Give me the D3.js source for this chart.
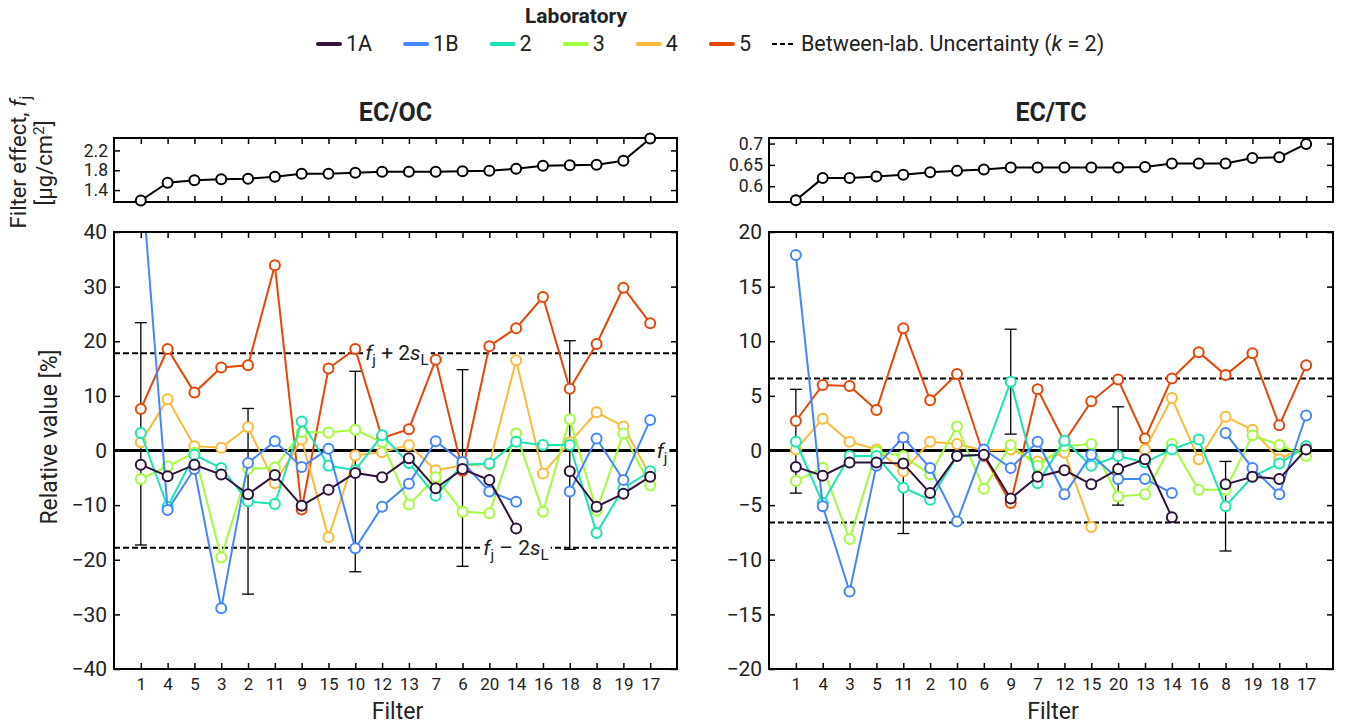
<!DOCTYPE html>
<html>
<head>
<meta charset="utf-8">
<script src="https://cdn.jsdelivr.net/npm/d3@7.9.0/dist/d3.min.js"></script>
<style>
  body { margin: 0; background: #fff; }
  svg { font-family: Roboto, sans-serif; }
</style>
</head>
<body>
<svg id="chart" width="1347" height="724"></svg>
<script>
// ---- data ----
const labs = ['1A', '1B', '2', '3', '4', '5'];
const labColors = ['#30123b', '#4686fb', '#1ae4b6', '#a2fc3c', '#fbb938', '#e4460a'];

// EC/OC panel
const ocFilters = [1, 4, 5, 3, 2, 11, 9, 15, 10, 12, 13, 7, 6, 20, 14, 16, 18, 8, 19, 17];
const ocEffect = [1.19, 1.55, 1.60, 1.62, 1.63, 1.67, 1.73, 1.73, 1.75, 1.77, 1.77, 1.77, 1.78, 1.79, 1.83, 1.89, 1.90, 1.91, 1.99, 2.44];
const oc1A = [-2.6, -4.7, -2.6, -4.4, -8.0, -4.5, -10.1, -7.2, -4.1, -4.9, -1.4, -6.9, -3.4, -5.4, -14.3, null, -3.8, -10.3, -7.9, -4.8];
const oc1B = [52, -10.9, -3.4, -28.9, -2.3, 1.7, -3.0, 0.3, -17.9, -10.3, -6.1, 1.7, -2.1, -7.5, -9.4, null, -7.5, 2.2, -5.4, 5.6];
const oc2 = [3.2, -10.3, -0.8, -3.2, -9.3, -9.8, 5.3, -2.8, -3.6, 2.8, -2.3, -8.3, -2.6, -2.4, 1.6, 1.0, 1.0, -15.1, -6.9, -3.8];
const oc3 = [-5.2, -2.9, -0.4, -19.6, -3.4, -3.1, 3.4, 3.3, 3.8, 1.5, -9.9, -4.9, -11.2, -11.5, 3.1, -11.2, 5.7, -11.0, 3.1, -6.4];
const oc4 = [1.5, 9.4, 0.8, 0.5, 4.3, -6.0, 2.0, -15.9, -0.9, -0.3, 1.0, -3.6, -2.7, -2.5, 16.5, -4.2, 1.5, 7.0, 4.4, -4.6];
const oc5 = [7.6, 18.6, 10.6, 15.2, 15.6, 33.9, -10.8, 15.0, 18.6, 2.3, 3.9, 16.6, -3.7, 19.1, 22.4, 28.1, 11.3, 19.5, 29.8, 23.3];
const ocErrFilters = [1, 2, 10, 6, 18];
const ocErrLow = [-17.3, -26.3, -22.2, -21.2, -18.1];
const ocErrHigh = [23.4, 7.7, 14.5, 14.8, 20.1];
const ocU = 17.8;

// EC/TC panel
const tcFilters = [1, 4, 3, 5, 11, 2, 10, 6, 9, 7, 12, 15, 20, 13, 14, 16, 8, 19, 18, 17];
const tcEffect = [0.567, 0.619, 0.619, 0.623, 0.627, 0.633, 0.636, 0.639, 0.644, 0.644, 0.644, 0.644, 0.644, 0.645, 0.653, 0.653, 0.653, 0.666, 0.668, 0.699];
const tc1A = [-1.5, -2.3, -1.1, -1.1, -1.2, -3.9, -0.5, -0.4, -4.4, -2.4, -1.8, -3.1, -1.7, -0.8, -6.1, null, -3.1, -2.4, -2.6, 0.1];
const tc1B = [17.9, -5.1, -12.9, -1.4, 1.2, -1.6, -6.5, 0.1, -1.6, 0.8, -4.0, -0.4, -2.6, -2.6, -3.9, null, 1.6, -1.6, -4.0, 3.2];
const tc2 = [0.8, -4.8, -0.5, -0.5, -3.4, -4.5, -0.5, -0.4, 6.3, -3.0, 0.9, -1.4, -0.5, -1.1, 0.1, 1.0, -5.1, -2.4, -1.2, 0.4];
const tc3 = [-2.8, -1.6, -8.1, -0.1, -0.5, -2.2, 2.2, -3.5, 0.5, -1.4, 0.4, 0.6, -4.2, -4.0, 0.6, -3.6, -3.6, 1.4, 0.5, -0.5];
const tc4 = [0.1, 2.9, 0.8, 0.1, -1.9, 0.8, 0.6, 0.0, 0.1, -1.0, -0.2, -7.0, null, 0.1, 4.8, -0.8, 3.1, 1.9, -0.8, 0.4];
const tc5 = [2.7, 6.0, 5.9, 3.7, 11.2, 4.6, 7.0, -0.5, -4.8, 5.6, 0.8, 4.5, 6.5, 1.1, 6.6, 9.0, 6.9, 8.9, 2.3, 7.8];
const tcErrFilters = [1, 11, 9, 20, 8];
const tcErrLow = [-3.9, -7.6, 1.5, -5.0, -9.2];
const tcErrHigh = [5.6, 0.8, 11.1, 4.0, -1.0];
const tcU = 6.6;

// ---- drawing ----
const svg = d3.select('#chart');
const TOP0 = 138, TOP1 = 202, MAIN0 = 232, MAIN1 = 669;
const fmt = d => (d < 0 ? '\u2212' + Math.abs(d) : '' + d);

// italic / subscript pieces inside one text element
function sub(textSel, parts) {
  let shifted = false;
  parts.forEach(([s, st]) => {
    const ts = textSel.append('tspan').text(s);
    if (shifted) { ts.attr('dy', -5); shifted = false; }
    if (st === 'i') ts.attr('font-style', 'italic');
    if (st === 'sub') { ts.attr('font-size', '0.72em').attr('dy', 5); shifted = true; }
  });
}

// legend
svg.append('text').attr('x', 576).attr('y', 23).attr('text-anchor', 'middle')
  .attr('font-size', 21).attr('font-weight', 'bold').attr('fill', '#222').text('Laboratory');
let lx = 318;
labs.forEach((lab, i) => {
  svg.append('line').attr('x1', lx).attr('x2', lx + 22).attr('y1', 44).attr('y2', 44)
    .attr('stroke', labColors[i]).attr('stroke-width', 4).attr('stroke-linecap', 'round');
  const t = svg.append('text').attr('x', lx + 28).attr('y', 51).attr('font-size', 21.5).attr('fill', '#222').text(lab);
  lx += 28 + t.node().getComputedTextLength() + 33;
});
svg.append('line').attr('x1', lx - 12).attr('x2', lx + 11).attr('y1', 44).attr('y2', 44)
  .attr('stroke', '#000').attr('stroke-width', 2).attr('stroke-dasharray', '5,3');
const ut = svg.append('text').attr('x', lx + 17).attr('y', 51).attr('font-size', 21.5).attr('fill', '#222');
ut.append('tspan').text('Between-lab. Uncertainty (');
ut.append('tspan').attr('font-style', 'italic').text('k');
ut.append('tspan').text(' = 2)');

function drawPanel(p) {
  const x = d3.scaleLinear().domain([0, 21]).range([p.left, p.right]);
  const idx = d3.range(1, 21);
  const yTop = d3.scaleLinear().domain(p.effectDomain).range([TOP1, TOP0]);
  const y = d3.scaleLinear().domain(p.yDomain).range([MAIN1, MAIN0]);
  const g = svg.append('g');

  // title
  g.append('text').attr('x', (p.left + p.right) / 2).attr('y', 121).attr('text-anchor', 'middle')
    .attr('font-size', 25).attr('font-weight', 'bold').attr('fill', '#222').text(p.title);

  // --- top panel ---
  const gt = g.append('g');
  gt.append('g').attr('transform', `translate(0,${TOP0})`)
    .call(d3.axisTop(x).tickValues(idx).tickSize(-6).tickFormat(''));
  gt.append('g').attr('transform', `translate(0,${TOP1})`)
    .call(d3.axisBottom(x).tickValues(idx).tickSize(-6).tickFormat(''));
  gt.append('g').attr('transform', `translate(${p.left},0)`)
    .call(d3.axisLeft(yTop).tickValues(p.effectTicks).tickSize(-6).tickPadding(6).tickFormat(d => d));
  gt.append('g').attr('transform', `translate(${p.right},0)`)
    .call(d3.axisRight(yTop).tickValues(p.effectTicks).tickSize(-6).tickFormat(''));
  gt.selectAll('.domain').remove();
  gt.selectAll('.tick line').attr('stroke', '#000').attr('stroke-width', 1.5);
  gt.selectAll('.tick text').attr('font-size', 17.5).attr('fill', '#222').attr('font-family', 'Roboto, sans-serif');
  gt.append('rect').attr('x', p.left).attr('y', TOP0).attr('width', p.right - p.left).attr('height', TOP1 - TOP0)
    .attr('fill', 'none').attr('stroke', '#000').attr('stroke-width', 2);
  const effLine = d3.line().x((d, i) => x(i + 1)).y(d => yTop(d));
  gt.append('path').attr('d', effLine(p.effect)).attr('fill', 'none').attr('stroke', '#000').attr('stroke-width', 2);
  gt.selectAll('circle').data(p.effect).join('circle')
    .attr('cx', (d, i) => x(i + 1)).attr('cy', d => yTop(d)).attr('r', 5)
    .attr('fill', '#fff').attr('stroke', '#000').attr('stroke-width', 2);

  // --- main panel ---
  const gm = g.append('g');
  gm.append('g').attr('transform', `translate(0,${MAIN0})`)
    .call(d3.axisTop(x).tickValues(idx).tickSize(-6).tickFormat(''));
  gm.append('g').attr('class', 'xax').attr('transform', `translate(0,${MAIN1})`)
    .call(d3.axisBottom(x).tickValues(idx).tickSize(-6).tickPadding(9).tickFormat(i => p.filters[i - 1]));
  gm.append('g').attr('class', 'yax').attr('transform', `translate(${p.left},0)`)
    .call(d3.axisLeft(y).tickValues(p.yTicks).tickSize(-6).tickPadding(7).tickFormat(fmt));
  gm.append('g').attr('transform', `translate(${p.right},0)`)
    .call(d3.axisRight(y).tickValues(p.yTicks).tickSize(-6).tickFormat(''));
  gm.selectAll('.domain').remove();
  gm.selectAll('.tick line').attr('stroke', '#000').attr('stroke-width', 1.5);
  gm.selectAll('.tick text').attr('fill', '#222').attr('font-family', 'Roboto, sans-serif');
  gm.selectAll('.xax .tick text').attr('font-size', 17);
  gm.selectAll('.yax .tick text').attr('font-size', 21);

  const clipId = 'clip' + p.title.replace('/', '');
  g.append('clipPath').attr('id', clipId).append('rect')
    .attr('x', p.left).attr('y', MAIN0).attr('width', p.right - p.left).attr('height', MAIN1 - MAIN0);
  const plot = gm.append('g').attr('clip-path', `url(#${clipId})`);

  // zero line and uncertainty lines
  plot.append('line').attr('x1', p.left).attr('x2', p.right).attr('y1', y(0)).attr('y2', y(0))
    .attr('stroke', '#000').attr('stroke-width', 3);
  [p.u, -p.u].forEach(v => {
    plot.append('line').attr('x1', p.left).attr('x2', p.right).attr('y1', y(v)).attr('y2', y(v))
      .attr('stroke', '#000').attr('stroke-width', 2).attr('stroke-dasharray', '6,3');
  });

  // error bars
  p.errFilters.forEach((f, k) => {
    const xi = x(p.filters.indexOf(f) + 1);
    const eb = plot.append('g').attr('stroke', '#000').attr('stroke-width', 1.3);
    eb.append('line').attr('x1', xi).attr('x2', xi).attr('y1', y(p.errLow[k])).attr('y2', y(p.errHigh[k]));
    [p.errLow[k], p.errHigh[k]].forEach(v => {
      eb.append('line').attr('x1', xi - 6).attr('x2', xi + 6).attr('y1', y(v)).attr('y2', y(v));
    });
  });

  // annotations
  if (p.annotate) {
    const ann = (cx, cy, parts) => {
      const t = plot.append('text').attr('x', cx).attr('y', cy + 7).attr('font-size', 21)
        .attr('fill', '#222').attr('text-anchor', 'middle');
      sub(t, parts);
      const bb = t.node().getBBox();
      plot.insert('rect', () => t.node()).attr('x', bb.x - 2).attr('y', cy - 8)
        .attr('width', bb.width + 4).attr('height', 16).attr('fill', '#fff');
    };
    ann(397, y(p.u), [['f', 'i'], ['j', 'sub'], [' + 2'], ['s', 'i'], ['L', 'sub']]);
    ann(516, y(-p.u), [['f', 'i'], ['j', 'sub'], [' \u2013 2'], ['s', 'i'], ['L', 'sub']]);
    ann(662, y(0), [['f', 'i'], ['j', 'sub']]);
  }

  // lab series, drawn from lab 5 down to 1A so 1A ends on top
  const line = d3.line().defined(d => d != null).x((d, i) => x(i + 1)).y(d => y(d));
  for (let s = p.series.length - 1; s >= 0; s--) {
    const vals = p.series[s];
    const sg = plot.append('g');
    sg.append('path').attr('d', line(vals)).attr('fill', 'none')
      .attr('stroke', labColors[s]).attr('stroke-width', 2);
    sg.selectAll('circle').data(vals.map((v, i) => [v, i]).filter(d => d[0] != null)).join('circle')
      .attr('cx', d => x(d[1] + 1)).attr('cy', d => y(d[0])).attr('r', 5)
      .attr('fill', '#fff').attr('stroke', labColors[s]).attr('stroke-width', 2);
  }

  gm.append('rect').attr('x', p.left).attr('y', MAIN0).attr('width', p.right - p.left).attr('height', MAIN1 - MAIN0)
    .attr('fill', 'none').attr('stroke', '#000').attr('stroke-width', 2);

  // x label
  g.append('text').attr('x', (p.left + p.right) / 2 + 2).attr('y', 719).attr('text-anchor', 'middle')
    .attr('font-size', 23).attr('fill', '#222').text('Filter');
}

drawPanel({
  title: 'EC/OC', left: 114, right: 677, filters: ocFilters,
  effect: ocEffect, effectDomain: [1.16, 2.45], effectTicks: [1.4, 1.8, 2.2],
  series: [oc1A, oc1B, oc2, oc3, oc4, oc5], yDomain: [-40, 40], yTicks: d3.range(-40, 41, 10),
  errFilters: ocErrFilters, errLow: ocErrLow, errHigh: ocErrHigh, u: ocU, annotate: true
});
drawPanel({
  title: 'EC/TC', left: 769, right: 1333, filters: tcFilters,
  effect: tcEffect, effectDomain: [0.563, 0.713], effectTicks: [0.6, 0.65, 0.7],
  series: [tc1A, tc1B, tc2, tc3, tc4, tc5], yDomain: [-20, 20], yTicks: d3.range(-20, 21, 5),
  errFilters: tcErrFilters, errLow: tcErrLow, errHigh: tcErrHigh, u: tcU, annotate: false
});

// y labels (left side)
const yl1 = svg.append('text').attr('transform', 'translate(26,162) rotate(-90)')
  .attr('text-anchor', 'middle').attr('font-size', 22).attr('fill', '#222');
sub(yl1, [['Filter effect, '], ['f', 'i'], ['j', 'sub']]);
const yl2 = svg.append('text').attr('transform', 'translate(52,163) rotate(-90)')
  .attr('text-anchor', 'middle').attr('font-size', 22).attr('fill', '#222');
yl2.append('tspan').text('[\u03bcg/cm');
yl2.append('tspan').attr('font-size', '0.7em').attr('dy', -8).text('2');
yl2.append('tspan').attr('dy', 8).text(']');
svg.append('text').attr('transform', 'translate(57,437) rotate(-90)')
  .attr('text-anchor', 'middle').attr('font-size', 23).attr('fill', '#222').text('Relative value [%]');
</script>
</body>
</html>
